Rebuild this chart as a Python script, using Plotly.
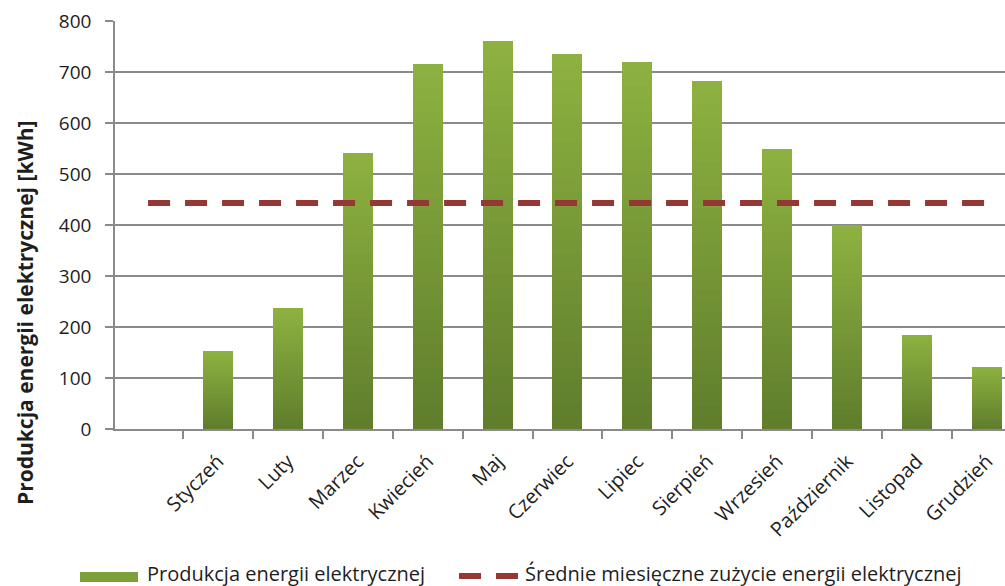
import plotly.graph_objects as go

# Monthly PV production vs. average monthly consumption
months = ["Styczeń", "Luty", "Marzec", "Kwiecień", "Maj", "Czerwiec",
          "Lipiec", "Sierpień", "Wrzesień", "Październik", "Listopad", "Grudzień"]
production_kwh = [152, 238, 542, 716, 760, 735, 720, 682, 549, 400, 185, 122]
avg_consumption_kwh = 443
y_ticks = [0, 100, 200, 300, 400, 500, 600, 700, 800]

series_bar = "Produkcja energii elektrycznej"
series_line = "Średnie miesięczne zużycie energii elektrycznej"
y_title = "Produkcja energii elektrycznej [kWh]"

# page geometry (px)
W, H = 1005, 586
ML, MR, MT, MB = 115, 0, 21, 157
PW, PH = W - ML - MR, H - MT - MB

def px_x(p):
    return (p - ML) / PW

def px_y(p):
    return (H - MB - p) / PH

FONT = "Open Sans"
TXT = "#1e1e1e"
GRID = "#8a8a8a"

# slot 0 is an empty category, months occupy slots 1..12
bar_x = list(range(1, len(months) + 1))
line_x = list(range(0, len(months) + 1))

fig = go.Figure()

# vertical gradient on each bar: stack thin slices of every bar's own value
N_SLICES = 30
top_rgb = (0x8E, 0xB2, 0x40)
bot_rgb = (0x5F, 0x7D, 0x2C)
for k in range(N_SLICES):
    t = (k + 0.5) / N_SLICES
    c = tuple(round(b + (a - b) * t) for a, b in zip(top_rgb, bot_rgb))
    fig.add_trace(go.Bar(
        x=bar_x,
        y=[v / N_SLICES for v in production_kwh],
        width=0.43,
        marker=dict(color="rgb(%d,%d,%d)" % c, line=dict(width=0)),
        showlegend=False,
        hoverinfo="skip",
    ))

fig.add_trace(go.Scatter(
    x=line_x,
    y=[avg_consumption_kwh] * len(line_x),
    mode="lines",
    line=dict(color="#953735", width=6, dash="22px,15px"),
    showlegend=False,
    hoverinfo="skip",
))

fig.update_layout(
    width=W, height=H,
    margin=dict(l=ML, r=MR, t=MT, b=MB, pad=0),
    paper_bgcolor="white", plot_bgcolor="white",
    barmode="stack", bargap=0,
    font=dict(family=FONT, size=18, color=TXT),
    showlegend=False,
)

fig.update_xaxes(
    range=[-0.473, 12.26],
    tickmode="array", tickvals=bar_x, ticktext=months,
    tickangle=-45, ticks="", ticklabelstandoff=11,
    tickfont=dict(family=FONT, size=20, color=TXT),
    showgrid=False, zeroline=False,
    showline=True, linecolor=GRID, linewidth=1.5,
    minor=dict(tickvals=[i + 0.5 for i in range(len(months))],
               ticks="outside", ticklen=8, tickcolor=GRID, tickwidth=1.5),
)

fig.update_yaxes(
    range=[0, 800],
    tickmode="array", tickvals=y_ticks,
    ticks="outside", ticklen=8, tickcolor=GRID, tickwidth=1.5,
    ticklabelstandoff=10,
    tickfont=dict(family=FONT, size=19, color=TXT),
    showgrid=True, gridcolor=GRID, gridwidth=1.5,
    zeroline=False, showline=True, linecolor=GRID, linewidth=1.5,
)

# axis title
fig.add_annotation(
    x=px_x(25), y=px_y(313), xref="paper", yref="paper",
    text="<b>%s</b>" % y_title, textangle=-90, showarrow=False,
    font=dict(family=FONT, size=21, color=TXT),
    xanchor="center", yanchor="middle",
)

# legend drawn below the axis labels
leg_y = 573
fig.add_shape(type="rect", xref="paper", yref="paper",
              x0=px_x(80), x1=px_x(138), y0=px_y(582), y1=px_y(572),
              fillcolor="#7c9f38", line=dict(width=0))
fig.add_annotation(x=px_x(145), y=px_y(leg_y), xref="paper", yref="paper",
                   text=series_bar, showarrow=False, xanchor="left", yanchor="middle",
                   font=dict(family=FONT, size=20, color=TXT))
for x0, x1 in [(459, 481), (496, 518)]:
    fig.add_shape(type="line", xref="paper", yref="paper",
                  x0=px_x(x0), x1=px_x(x1), y0=px_y(576), y1=px_y(576),
                  line=dict(color="#953735", width=6))
fig.add_annotation(x=px_x(523), y=px_y(leg_y), xref="paper", yref="paper",
                   text=series_line, showarrow=False, xanchor="left", yanchor="middle",
                   font=dict(family=FONT, size=20, color=TXT))

fig.write_html("out.html")
